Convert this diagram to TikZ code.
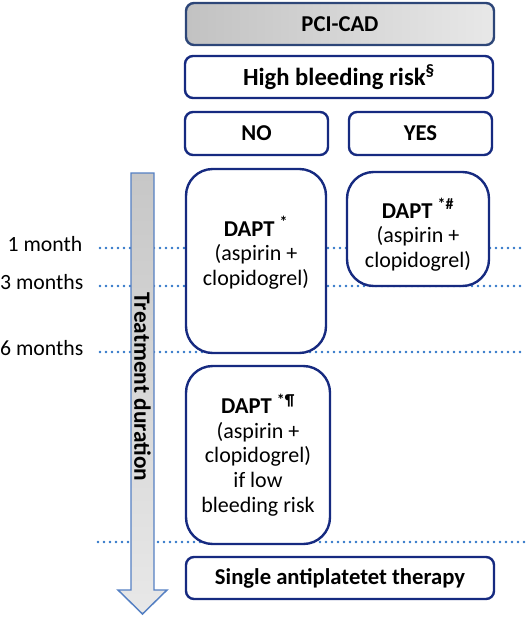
\documentclass[tikz,border=0pt]{standalone}
\usepackage{fontspec}
\setmainfont{Carlito}
\definecolor{navy}{RGB}{22,42,128}
\definecolor{dotblue}{RGB}{46,117,200}
\definecolor{arrowedge}{RGB}{85,128,195}
\definecolor{topedge}{RGB}{45,70,120}
\begin{document}
\begin{tikzpicture}[x=0.75pt,y=-0.75pt,
  box/.style={draw=navy, line width=1.8pt, fill=white, rounded corners=6pt,
    font=\fontsize{17}{20}\selectfont\bfseries, inner sep=0pt},
  tall/.style={draw=navy, line width=1.8pt, fill=white, rounded corners=20pt, inner sep=0pt},
  txt/.style={align=center, font=\fontsize{16.5}{18.5}\selectfont, inner sep=0pt},
  dotline/.style={dotblue, line width=2pt, line cap=round, dash pattern=on 0pt off 4.5pt},
  month/.style={anchor=base east, font=\fontsize{16.3}{20}\selectfont}]
\useasboundingbox (0,0) rectangle (526,617);
% time marks
\coordinate (m1a) at (100,248); \coordinate (m1b) at (526,248);
\coordinate (m3a) at (100,286); \coordinate (m3b) at (526,286);
\coordinate (m6a) at (100,352); \coordinate (m6b) at (526,352);
\coordinate (m12a) at (98,542); \coordinate (m12b) at (526,542);
\draw[dotline] (m1a)--(m1b);
\draw[dotline] (m3a)--(m3b);
\draw[dotline] (m6a)--(m6b);
\draw[dotline] (m12a)--(m12b);
\node[month] (t1) at (87,251) {1 month};
\node[month] (t3) at (88,289) {3 months};
\node[month] (t6) at (88,355) {6 months};
% header boxes
\node[box, draw=topedge, left color=black!24, right color=black!9,
  minimum width=231pt, minimum height=31.5pt] (pci) at (340,24) {PCI-CAD};
\node[box, minimum width=231pt, minimum height=31.5pt,
  font=\fontsize{18.5}{20}\selectfont\bfseries] (hbr) at (339,77)
  {High bleeding risk\textsuperscript{§}};
\node[box, minimum width=107.25pt, minimum height=32.25pt] (no) at (256.5,133.5) {NO};
\node[box, minimum width=107.25pt, minimum height=32.25pt] (yes) at (420.5,133.5) {YES};
% treatment boxes
\node[tall, minimum width=105pt, minimum height=138pt] (dnone) at (256,261) {};
\node[txt] (dnonet) at ([yshift=6pt]dnone.center)
  {{\fontsize{17}{20}\selectfont\bfseries DAPT \textsuperscript{*}}\\(aspirin +\\clopidogrel)};
\node[tall, minimum width=106.5pt, minimum height=85.5pt] (dyes) at (418,229) {};
\node[txt] (dyest) at ([yshift=-4.5pt]dyes.center)
  {{\fontsize{17}{20}\selectfont\bfseries DAPT \textsuperscript{*\#}}\\(aspirin +\\clopidogrel)};
\node[tall, minimum width=108pt, minimum height=133.5pt] (dlow) at (258,455) {};
\node[txt] (dlowt) at (dlow.center)
  {{\fontsize{17}{20}\selectfont\bfseries DAPT \textsuperscript{*¶}}\\(aspirin +\\clopidogrel)\\if low\\bleeding risk};
\node[box, minimum width=231pt, minimum height=31.5pt] (sapt) at (340,578)
  {Single antiplatetet therapy};
% duration arrow
\draw[draw=arrowedge, line width=1.1pt, top color=black!22, bottom color=black!9]
  (131,173)--(154,173)--(154,590)--(167,590)--(142.5,614)--(118,590)--(131,590)--cycle;
\node[rotate=-90, font=\fontsize{17.5}{20}\selectfont\bfseries] (dur) at (142.5,387)
  {Treatment duration};
\end{tikzpicture}
\end{document}
